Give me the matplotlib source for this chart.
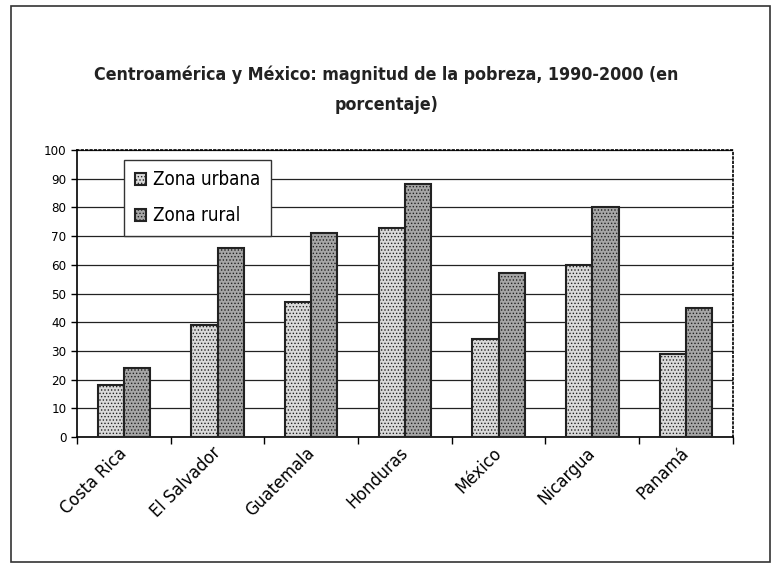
import numpy as np
from matplotlib import pyplot as plt
from matplotlib.patches import Rectangle
from matplotlib.transforms import ScaledTranslation

plt.rcParams['font.family'] = ['DejaVu Sans']
plt.rcParams['font.stretch'] = 'condensed'
plt.rcParams['hatch.linewidth'] = 0.6

paises = ['Costa Rica', 'El Salvador', 'Guatemala', 'Honduras', 'México', 'Nicargua', 'Panamá']
urbana = [18, 39, 47, 73, 34, 60, 29]
rural = [24, 66, 71, 88, 57, 80, 45]
yticks = list(range(0, 101, 10))

fig = plt.figure(figsize=(7.73, 5.65), dpi=100)
ax = fig.add_axes([0.0996, 0.2265, 0.8484, 0.508])

x = np.arange(len(paises))
w = 0.28
plt.rcParams['hatch.color'] = '#555555'
ax.bar(x - w / 2, urbana, width=w, color='#d9d9d9', edgecolor='#222222',
       linewidth=1.5, hatch='.....', label='Zona urbana', zorder=3)
plt.rcParams['hatch.color'] = '#333333'
ax.bar(x + w / 2, rural, width=w, color='#a6a6a6', edgecolor='#222222',
       linewidth=1.5, hatch='.....', label='Zona rural', zorder=3)

ax.set_xlim(-0.5, len(paises) - 0.5)
ax.set_ylim(0, 100)
ax.set_yticks(yticks)
ax.tick_params(axis='y', labelsize=9.5, length=4, width=1, direction='out')
ax.set_xticks(x)
ax.set_xticklabels(paises, rotation=45, ha='right', va='top', rotation_mode='anchor', fontsize=13)
ax.tick_params(axis='x', length=0, pad=5)
desplaza = ScaledTranslation(-6 / 100, 0, fig.dpi_scale_trans)
for lab in ax.get_xticklabels():
    lab.set_transform(lab.get_transform() + desplaza)
ax.set_xticks(np.arange(-0.5, len(paises)), minor=True)
ax.tick_params(axis='x', which='minor', length=5, width=1, direction='out')
ax.yaxis.grid(True, color='#222222', linewidth=0.9, zorder=0)

for s in ['top', 'right']:
    ax.spines[s].set_linestyle(':')
    ax.spines[s].set_linewidth(1.2)
ax.spines['left'].set_linewidth(1.2)
ax.spines['bottom'].set_linewidth(1.2)

leg = ax.legend(loc='upper left', bbox_to_anchor=(0.072, 0.965), fontsize=13.5,
                fancybox=False, framealpha=1, edgecolor='#333333', borderaxespad=0,
                handlelength=0.6, handleheight=0.6, handletextpad=0.4,
                borderpad=0.55, labelspacing=0.9)
leg.get_frame().set_linewidth(1.0)

fig.text(0.5, 0.867, 'Centroamérica y México: magnitud de la pobreza, 1990-2000 (en',
         ha='center', va='center', fontsize=12.8, fontweight='bold', color='#222222')
fig.text(0.5, 0.815, 'porcentaje)', ha='center', va='center', fontsize=12.8,
         fontweight='bold', color='#222222')

fig.patches.append(Rectangle((0.014, 0.005), 0.982, 0.985, transform=fig.transFigure,
                             fill=False, edgecolor='#333333', linewidth=1.2))

plt.savefig('out.png')
